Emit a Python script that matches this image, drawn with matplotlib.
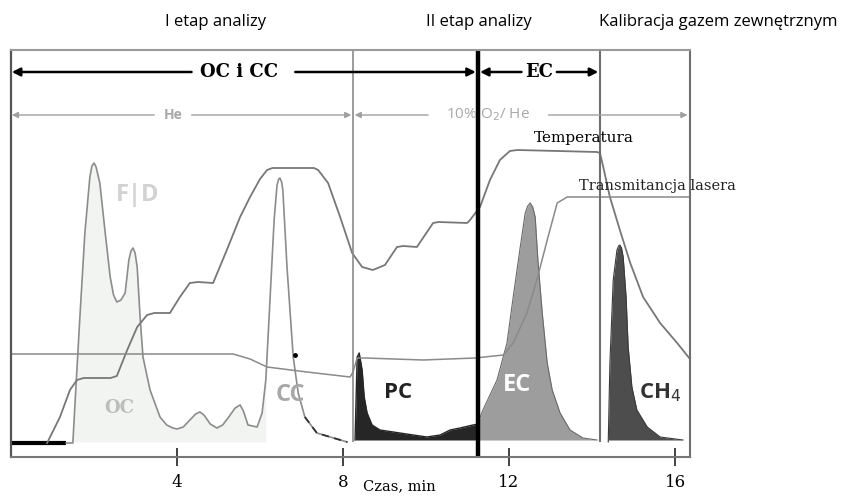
import matplotlib
matplotlib.use('Agg')
import matplotlib.pyplot as plt

# czas [min] i sygnal [j.u.]
fid_t = [1.33, 1.49, 1.57, 1.66, 1.78, 1.90, 1.95, 2.00, 2.05, 2.14, 2.27, 2.39, 2.47, 2.55,
         2.65, 2.75, 2.84, 2.89, 2.94, 2.99, 3.04, 3.11, 3.18, 3.35, 3.59, 3.75, 3.90, 4.00,
         4.15, 4.31, 4.45, 4.55, 4.65, 4.80, 4.96, 5.10, 5.23, 5.40, 5.52, 5.60, 5.71,
         5.93, 6.05, 6.14, 6.24, 6.34, 6.41, 6.45, 6.48, 6.52, 6.55, 6.65, 6.80, 6.92, 7.08,
         7.37, 7.69, 8.10]
fid_y = [14, 14, 74, 140, 224, 280, 291, 294, 290, 274, 224, 180, 162, 155,
         157, 164, 197, 206, 209, 204, 190, 140, 100, 67, 40, 32, 29, 28,
         30, 37, 43, 45, 42, 33, 29, 32, 39, 49, 52, 46, 32,
         30, 44, 77, 157, 237, 272, 278, 279, 275, 267, 190, 100, 64, 40,
         24, 20, 15]

pc_t = [8.29, 8.34, 8.39, 8.46, 8.51, 8.58, 8.70, 8.89, 9.37, 10.02, 10.34, 10.58, 10.82, 11.13, 11.25]
pc_y = [17, 100, 104, 87, 60, 44, 32, 27, 24, 20, 22, 27, 29, 32, 33]

ec_t = [11.25, 11.37, 11.71, 11.95, 12.10, 12.27, 12.39, 12.45, 12.51, 12.57, 12.63, 12.70,
        12.80, 12.92, 13.04, 13.23, 13.47, 13.78, 14.12]
ec_y = [34, 47, 77, 114, 160, 210, 244, 251, 254, 250, 240, 194, 144, 94, 67, 44, 27, 19, 17]

ch4_t = [14.39, 14.43, 14.51, 14.60, 14.64, 14.67, 14.71, 14.75, 14.82, 14.87, 14.96, 15.08,
         15.33, 15.64, 16.19]
ch4_y = [15, 94, 177, 207, 211, 212, 209, 200, 160, 110, 70, 47, 30, 20, 17]

temp_t = [0.87, 1.18, 1.42, 1.59, 1.75, 2.40, 2.55, 2.80, 3.04, 3.28, 3.45, 3.83, 4.07, 4.31,
          4.50, 4.87, 5.20, 5.52, 5.76, 6.00, 6.17, 6.30, 7.30, 7.40, 7.64, 7.93, 8.22, 8.46,
          8.72, 9.01, 9.30, 9.45, 9.78, 10.17, 10.30, 10.99, 11.06, 11.30, 11.54, 11.78, 12.02,
          12.20, 14.12, 14.19, 14.27, 14.43, 14.67, 14.92, 15.23, 15.64, 16.05, 16.34]
temp_y = [14, 40, 67, 77, 79, 79, 81, 107, 130, 142, 144, 144, 160, 174,
          175, 174, 207, 240, 260, 278, 287, 289, 289, 287, 274, 240, 204, 190,
          187, 192, 210, 211, 210, 234, 235, 234, 237, 250, 277, 297, 306,
          307, 305, 304, 290, 260, 227, 194, 160, 134, 114, 99]

trans_t = [0, 5.35, 5.76, 6.17, 7.13, 8.17, 8.24, 8.34, 8.53, 9.93, 11.18, 11.86, 12.10,
           12.43, 12.67, 12.92, 13.16, 13.40, 16.34]
trans_y = [103, 103, 98, 90, 85, 80, 85, 99, 99, 97, 99, 102, 114,
           144, 177, 217, 254, 260, 260]

ticks = [4, 8, 12, 16]
serif = 'DejaVu Serif'
sans = 'Open Sans'

fig = plt.figure(figsize=(8.48, 4.99), dpi=100)
ax = fig.add_axes([11/848, 42/499, 679/848, 407/499])
ax.set_xlim(0, 16.36)
ax.set_ylim(0, 407)

# tlo pod OC
ax.fill_between(fid_t[:44], fid_y[:44], 15, color='#f2f4f2', lw=0)
ax.plot([0, 1.33], [14, 14], color='black', lw=3, solid_capstyle='butt')
ax.plot(fid_t, fid_y, color='#8c8c8c', lw=1.2)
ax.plot(fid_t[-4:], fid_y[-4:], color='#333333', lw=1.3, ls=(0, (4, 3)))
ax.plot([6.84], [102], marker='o', ms=2.5, color='black')

ax.fill_between(pc_t, pc_y, 17, color='#262626', lw=0)
ax.plot(pc_t, pc_y, color='#262626', lw=1)
ax.fill_between(ec_t, ec_y, 17, color='#9d9d9d', lw=0)
ax.plot(ec_t, ec_y, color='#6a6a6a', lw=0.8)
ax.fill_between(ch4_t, ch4_y, 17, color='#4d4d4d', lw=0)
ax.plot(ch4_t, ch4_y, color='#3a3a3a', lw=0.8)

ax.plot(temp_t, temp_y, color='#777777', lw=1.3)
ax.plot(trans_t, trans_y, color='#8a8a8a', lw=1.1)

# linie podzialu
ax.vlines(8.24, 15, 407, color='#8a8a8a', lw=1.2)
ax.vlines(14.19, 15, 407, color='#6f6f6f', lw=1.5)
ax.vlines(11.25, 0, 407, color='black', lw=3.2)

# strzalki
ak = dict(arrowstyle='-|>', color='black', lw=1.8, mutation_scale=12, shrinkA=0, shrinkB=0)
ax.annotate('', xy=(0.02, 385), xytext=(4.35, 385), arrowprops=ak)
ax.annotate('', xy=(11.2, 385), xytext=(6.85, 385), arrowprops=ak)
ax.annotate('', xy=(11.3, 385), xytext=(12.3, 385), arrowprops=ak)
ax.annotate('', xy=(14.15, 385), xytext=(13.15, 385), arrowprops=ak)
ax.text(5.49, 385, 'OC i CC', ha='center', va='center', fontsize=13, fontweight='bold', family=serif)
ax.text(12.72, 385, 'EC', ha='center', va='center', fontsize=13, fontweight='bold', family=serif)

ag = dict(arrowstyle='-|>', color='#a0a0a0', lw=1.0, mutation_scale=9, shrinkA=0, shrinkB=0)
ax.annotate('', xy=(0.02, 342), xytext=(3.45, 342), arrowprops=ag)
ax.annotate('', xy=(8.2, 342), xytext=(4.35, 342), arrowprops=ag)
ax.annotate('', xy=(8.28, 342), xytext=(10.05, 342), arrowprops=ag)
ax.annotate('', xy=(16.3, 342), xytext=(12.95, 342), arrowprops=ag)
ax.text(3.9, 342, 'He', ha='center', va='center', fontsize=10, fontweight='bold', color='#a8a8a8', family=sans)
ax.text(11.5, 342, '10% O$_2$/ He', ha='center', va='center', fontsize=11, color='#a8a8a8', family=sans)

# opisy
ax.text(3.05, 262, 'F|D', ha='center', va='center', fontsize=17, fontweight='bold', color='#d2d2d2', family=sans)
ax.text(2.62, 49, 'OC', ha='center', va='center', fontsize=13, fontweight='bold', color='#bdbdbd', family=serif)
ax.text(6.72, 62, 'CC', ha='center', va='center', fontsize=17, fontweight='bold', color='#a8a8a8', family=sans)
ax.text(9.33, 65, 'PC', ha='center', va='center', fontsize=16, fontweight='bold', color='#222222', family=sans)
ax.text(12.2, 72, 'EC', ha='center', va='center', fontsize=17, fontweight='bold', color='white', family=sans)
ax.text(15.65, 64, 'CH$_4$', ha='center', va='center', fontsize=16, fontweight='bold', color='#333333', family=sans)
ax.text(13.8, 319, 'Temperatura', ha='center', va='center', fontsize=11, family=serif)
ax.text(15.57, 271, 'Transmitancja lasera', ha='center', va='center', fontsize=10.5, family=serif, color='#222222')

ax.spines['left'].set_color('#555555')
ax.spines['left'].set_linewidth(1.6)
ax.spines['right'].set_color('#6f6f6f')
ax.spines['right'].set_linewidth(1.5)
ax.spines['top'].set_color('#9a9a9a')
ax.spines['top'].set_linewidth(1.5)
ax.spines['bottom'].set_color('#777777')
ax.spines['bottom'].set_linewidth(1.5)

ax.set_yticks([])
ax.set_xticks(ticks)
ax.set_xticklabels([str(v) for v in ticks], family=serif, fontsize=12)
ax.tick_params(axis='x', direction='inout', length=13, width=1.3, color='#333333', pad=6)

fig.text(363/848, 1 - 490/499, 'Czas, min', ha='left', va='baseline', fontsize=10.5, family=serif)
fig.text(216/848, 1 - 22/499, 'I etap analizy', ha='center', va='center', fontsize=12, family=sans)
fig.text(479/848, 1 - 22/499, 'II etap analizy', ha='center', va='center', fontsize=12, family=sans)
fig.text(718/848, 1 - 22/499, 'Kalibracja gazem zewnętrznym', ha='center', va='center', fontsize=12, family=sans)

fig.savefig('out.png', dpi=100)
